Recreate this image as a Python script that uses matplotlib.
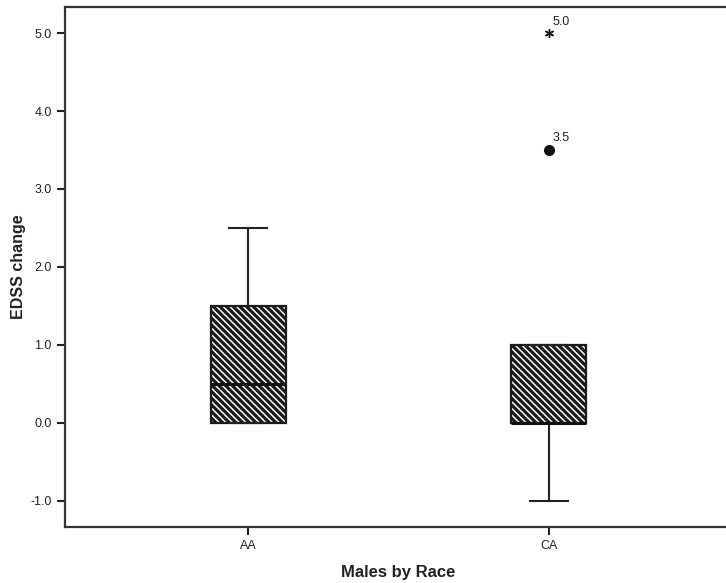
import matplotlib
matplotlib.use("Agg")
import matplotlib.pyplot as plt

plt.rcParams['font.family'] = ['Liberation Sans', 'DejaVu Sans']
plt.rcParams['hatch.linewidth'] = 2.3

categories = ["AA", "CA"]
whislo = [0.0, -1.0]
q1 = [0.0, 0.0]
med = [0.5, 0.0]
q3 = [1.5, 1.0]
whishi = [2.5, 1.0]
outlier_cat = ["CA", "CA"]
outlier_vals = [3.5, 5.0]
outlier_labels = ["3.5", "5.0"]
outlier_markers = ["o", "*"]
yticks = [-1.0, 0.0, 1.0, 2.0, 3.0, 4.0, 5.0]

W, H = 726, 583
fig = plt.figure(figsize=(W/100, H/100), dpi=100)
ax = fig.add_axes([65/W, 1-527/H, (732-65)/W, (527-7)/H])

stats = []
for i, c in enumerate(categories):
    stats.append(dict(label=c, whislo=whislo[i], q1=q1[i], med=med[i],
                      q3=q3[i], whishi=whishi[i], fliers=[]))
pos = list(range(1, len(categories)+1))
bp = ax.bxp(stats, positions=pos, widths=0.25, patch_artist=True,
            showfliers=False,
            boxprops=dict(facecolor='white', edgecolor='#1a1a1a', linewidth=1.6,
                          hatch='\\\\\\\\\\'),
            medianprops=dict(color='#111111', linewidth=2.2),
            whiskerprops=dict(color='#222222', linewidth=1.5),
            capprops=dict(color='#222222', linewidth=1.5),
            capwidths=0.127)

for c, v, lab, m in zip(outlier_cat, outlier_vals, outlier_labels, outlier_markers):
    x = pos[categories.index(c)]
    if m == 'o':
        ax.plot(x, v, marker='o', color='#111111', markersize=7, linestyle='none')
    else:
        ax.plot(x, v, marker=(6, 2, 0), color='#111111', markersize=6.5,
                markeredgewidth=1.0, linestyle='none')
    ax.annotate(lab, (x, v), xytext=(3, 4), textcoords='offset points',
                fontsize=9, color='#222222', ha='left', va='bottom')

ax.set_xlim(0.39, 2.61)
ax.set_ylim(-1.34, 5.335)
ax.set_yticks(yticks)
ax.set_yticklabels([f"{t:.1f}" for t in yticks])
ax.set_xticks(pos)
ax.set_xticklabels(categories)
ax.tick_params(axis='both', labelsize=9, colors='#222222', width=1.5, length=6,
               direction='out')
for s in ax.spines.values():
    s.set_linewidth(1.6)
    s.set_color('#333333')

ax.set_ylabel("EDSS change", fontsize=11.5, fontweight='bold', labelpad=3, color='#222222')
ax.set_xlabel("Males by Race", fontsize=12, fontweight='bold', labelpad=9, color='#222222')

fig.savefig("out.png", dpi=100)
